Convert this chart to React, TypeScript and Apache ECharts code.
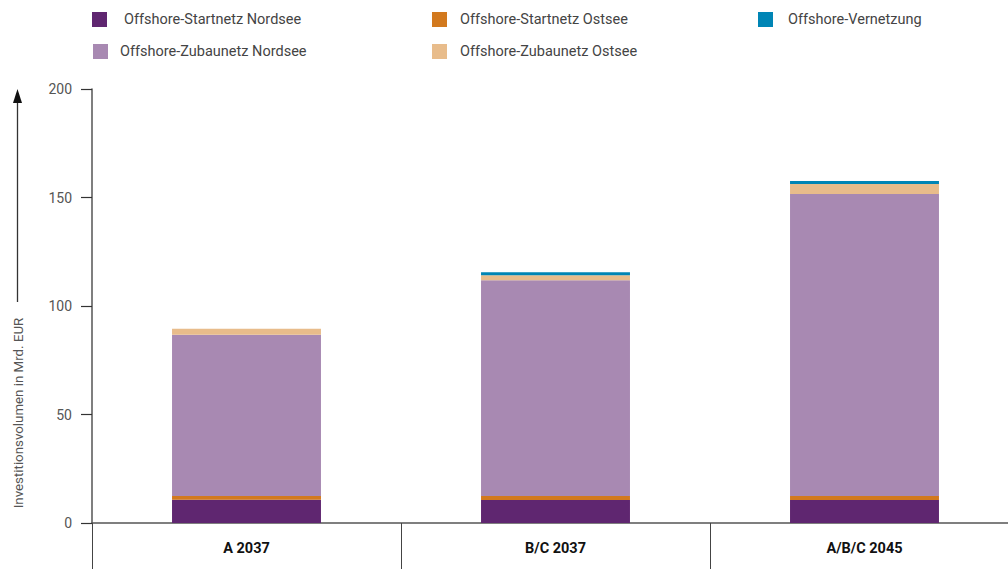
import React, { useEffect, useRef } from "react";
import * as echarts from "echarts";

const categories = ["A 2037", "B/C 2037", "A/B/C 2045"];
const seriesNames = [
  "Offshore-Startnetz Nordsee",
  "Offshore-Startnetz Ostsee",
  "Offshore-Zubaunetz Nordsee",
  "Offshore-Zubaunetz Ostsee",
  "Offshore-Vernetzung",
];
const startnetzNordsee = [10.7, 10.6, 10.6];
const startnetzOstsee = [1.8, 1.8, 1.8];
const zubaunetzNordsee = [74.2, 99.5, 139.2];
const zubaunetzOstsee = [2.8, 2.3, 4.6];
const vernetzung = [0, 1.3, 1.4];
const yTicks = [0, 50, 100, 150, 200];
const axisTitle = "Investitionsvolumen in Mrd. EUR";

const colors = ["#5f2670", "#d2791e", "#a889b2", "#e8bc8b", "#0085b5"];
const values = [startnetzNordsee, startnetzOstsee, zubaunetzNordsee, zubaunetzOstsee, vernetzung];

const legendPos: { name: string; left: number; top: number; pad: number }[] = [
  { name: seriesNames[0], left: 92, top: 12, pad: 12 },
  { name: seriesNames[1], left: 432, top: 12, pad: 8 },
  { name: seriesNames[4], left: 758, top: 12, pad: 10 },
  { name: seriesNames[2], left: 93, top: 44, pad: 7 },
  { name: seriesNames[3], left: 432, top: 44, pad: 8 },
];

export default function App() {
  const ref = useRef<HTMLDivElement>(null);
  useEffect(() => {
    if (!ref.current) return;
    const chart = echarts.init(ref.current, null, { renderer: "svg" });
    const font = "Roboto, 'DejaVu Sans', sans-serif";
    chart.setOption({
      animation: false,
      backgroundColor: "#ffffff",
      textStyle: { fontFamily: font },
      grid: { left: 92, right: 0, top: 89, bottom: 46, containLabel: false },
      legend: legendPos.map((l) => ({
        data: [l.name],
        left: l.left,
        top: l.top,
        padding: 0,
        itemWidth: 15,
        itemHeight: 15,
        icon: "rect",
        selectedMode: false,
        textStyle: { fontSize: 14.5, color: "#444", fontFamily: font, padding: [0, 0, 0, l.pad] },
      })),
      xAxis: {
        type: "category",
        data: categories,
        axisLine: { show: true, lineStyle: { color: "#555", width: 1.5 } },
        axisTick: { show: true, length: 46, lineStyle: { color: "#444", width: 1 } },
        axisLabel: { fontSize: 14.5, fontWeight: "bold", color: "#111", margin: 18, fontFamily: font },
      },
      yAxis: {
        type: "value",
        min: 0,
        max: 200,
        interval: 50,
        splitLine: { show: false },
        axisLine: { show: true, lineStyle: { color: "#555", width: 1.5 } },
        axisTick: { show: true, length: 11, lineStyle: { color: "#333", width: 1.2 } },
        axisLabel: {
          fontSize: 14,
          color: "#555",
          margin: 20,
          fontFamily: font,
          formatter: (v: number) => (yTicks.includes(v) ? String(v) : ""),
        },
      },
      series: seriesNames.map((name, i) => ({
        name,
        type: "bar",
        stack: "total",
        barWidth: "48.2%",
        data: values[i],
        itemStyle: { color: colors[i] },
      })),
      graphic: [
        {
          type: "text",
          x: 18,
          y: 413,
          rotation: Math.PI / 2,
          style: {
            text: axisTitle,
            fontSize: 13.3,
            fill: "#555",
            fontFamily: font,
            align: "center",
            verticalAlign: "middle",
          },
        },
        {
          type: "line",
          shape: { x1: 17.5, y1: 302, x2: 17.5, y2: 100 },
          style: { stroke: "#333", lineWidth: 1.3 },
        },
        {
          type: "polygon",
          shape: { points: [[13, 103], [22, 103], [17.5, 89]] },
          style: { fill: "#111" },
        },
      ],
    });
    return () => chart.dispose();
  }, []);
  return (
    <div
      style={{
        position: "fixed",
        left: 0,
        top: 0,
        width: 1008,
        height: 569,
        overflow: "hidden",
        background: "#fff",
      }}
    >
      <div ref={ref} style={{ width: 1019, height: 569 }} />
    </div>
  );
}
